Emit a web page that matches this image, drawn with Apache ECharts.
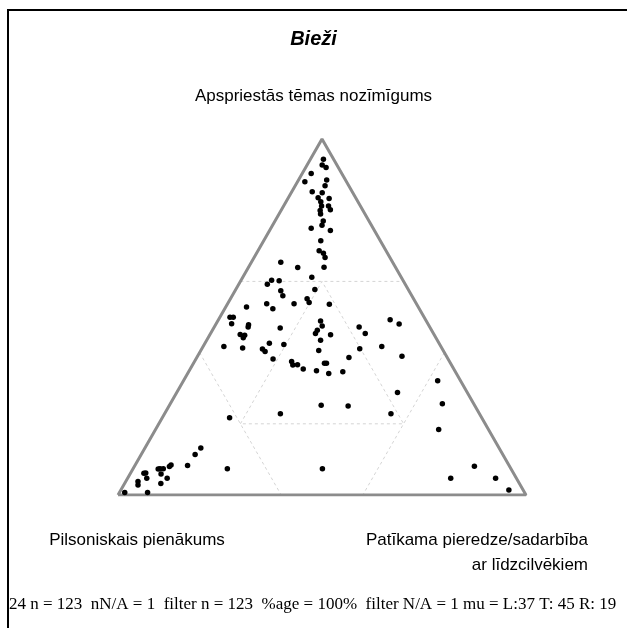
<!DOCTYPE html>
<html>
<head>
<meta charset="utf-8">
<script src="https://cdn.jsdelivr.net/npm/echarts@6/dist/echarts.min.js"></script>
<style>
  html, body { margin: 0; padding: 0; background: #fff; }
  #ternary { width: 627px; height: 628px; }
</style>
</head>
<body>
<div id="ternary"></div>
<script>
// shares in % : left = Pilsoniskais pienākums, top = Apspriestās tēmas nozīmīgums, right = Patīkama pieredze
const pctLeft = [
  2.5, 3.6, 3.0, 7.5, 10.2, 4.6, 5.8, 9.8, 7.5, 9.2,
  6.6, 9.1, 9.5, 7.8, 7.9, 10.5, 10.9, 11.2, 12.1, 15.2,
  10.8, 14.6, 16.4, 15.7, 15.9, 17.5, 27.4, 24.0, 21.9, 33.8,
  32.2, 30.4, 22.9, 31.4, 31.6, 36.7, 35.9, 30.0, 26.1, 26.1,
  21.4, 42.1, 47.6, 46.8, 48.1, 44.1, 44.5, 36.8, 47.5, 46.5,
  47.2, 53.2, 48.8, 25.9, 26.2, 28.0, 28.9, 25.4, 28.6, 30.5,
  41.6, 38.2, 44.1, 43.8, 42.9, 38.7, 38.9, 37.7, 36.9, 33.9,
  30.9, 30.4, 31.3, 27.6, 24.1, 17.3, 16.7, 20.2, 14.5, 8.7,
  7.1, 10.9, 17.1, 5.6, 7.7, 12.2, 37.6, 31.1, 48.8, 21.7,
  61.8, 73.1, 75.4, 78.8, 69.5, 46.2, 82.8, 83.4, 85.2, 86.0,
  86.5, 86.5, 90.1, 90.6, 90.6, 93.2, 93.7, 85.6, 87.9, 98.0,
  92.4, 8.6, 16.1, 5.1, 3.5
];
const pctTop = [
  94.3, 92.7, 92.0, 90.3, 88.0, 88.5, 86.9, 85.2, 84.9, 83.5,
  83.3, 82.4, 81.2, 81.2, 80.1, 79.9, 78.9, 77.0, 75.8, 74.9,
  74.3, 71.4, 68.6, 67.9, 66.7, 64.0, 65.4, 63.9, 61.2, 59.2,
  60.3, 60.2, 57.7, 57.4, 56.0, 53.7, 52.3, 53.7, 55.1, 54.1,
  53.6, 52.8, 49.9, 49.9, 48.1, 47.8, 47.2, 46.9, 45.1, 44.9,
  44.2, 41.7, 41.3, 48.9, 47.5, 46.3, 45.4, 45.0, 43.5, 40.6,
  42.6, 42.3, 41.0, 40.3, 38.2, 37.5, 36.5, 36.6, 35.4, 34.9,
  37.0, 37.0, 34.1, 34.6, 38.6, 47.2, 45.4, 41.1, 41.7, 49.2,
  48.0, 39.0, 28.8, 32.1, 25.6, 18.4, 25.2, 25.0, 22.8, 22.8,
  21.7, 13.2, 11.4, 8.3, 7.4, 7.4, 8.4, 8.0, 7.4, 7.4,
  7.3, 5.9, 6.2, 6.1, 4.7, 3.8, 2.8, 4.7, 3.2, 0.7,
  0.7, 8.1, 4.7, 4.7, 1.4
];
const pctRight = [
  3.2, 3.7, 5.0, 2.2, 1.8, 6.9, 7.3, 5.0, 7.6, 7.3,
  10.1, 8.5, 9.3, 11.0, 12.0, 9.6, 10.2, 11.8, 12.1, 9.9,
  14.9, 14.0, 15.0, 16.4, 17.4, 18.5, 7.2, 12.1, 16.9, 7.0,
  7.5, 9.4, 19.4, 11.2, 12.4, 9.6, 11.8, 16.3, 18.8, 19.8,
  25.0, 5.1, 2.5, 3.3, 3.8, 8.1, 8.3, 16.3, 7.4, 8.6,
  8.6, 5.1, 9.9, 25.2, 26.3, 25.7, 25.7, 29.6, 27.9, 28.9,
  15.8, 19.5, 14.9, 15.9, 18.9, 23.8, 24.6, 25.7, 27.7, 31.2,
  32.1, 32.6, 34.6, 37.8, 37.3, 35.5, 37.9, 38.7, 43.8, 42.1,
  44.9, 50.1, 54.1, 62.3, 66.7, 69.4, 37.2, 43.9, 28.4, 55.5,
  16.5, 13.7, 13.2, 12.9, 23.1, 46.4, 8.8, 8.6, 7.4, 6.6,
  6.2, 7.6, 3.7, 3.3, 4.7, 3.0, 3.5, 9.7, 8.9, 1.3,
  6.9, 83.3, 79.2, 90.2, 95.1
];

// reference lines, as [left, top, right] end points
const outline = [[100, 0, 0], [0, 0, 100], [0, 100, 0], [100, 0, 0]];
const guideLines = [
  [[40, 60, 0], [0, 60, 40]],
  [[60, 40, 0], [60, 0, 40]],
  [[0, 40, 60], [40, 0, 60]],
  [[60, 20, 20], [20, 60, 20], [20, 20, 60], [60, 20, 20]]
];

const titleText = 'Bieži';
const topLabel = 'Apspriestās tēmas nozīmīgums';
const leftLabel = 'Pilsoniskais pienākums';
const rightLabel = 'Patīkama pieredze/sadarbība\nar līdzcilvēkiem';
const footerText = '24 n = 123  nN/A = 1  filter n = 123  %age = 100%  filter N/A = 1 mu = L:37 T: 45 R: 19';

// ternary -> plane: x = right + top/2, y = top
function toXY(l, t, r) {
  const s = l + t + r;
  return [(r + t / 2) / s, t / s];
}

const myChart = echarts.init(document.getElementById('ternary'));
const sans = 'Liberation Sans, Arial, sans-serif';

const guideSeries = guideLines.map(seg => ({
  type: 'line',
  data: seg.map(p => toXY(p[0], p[1], p[2])),
  showSymbol: false,
  silent: true,
  lineStyle: { color: '#d4d4d4', width: 1, type: [3, 3] },
  z: 1
}));

const option = {
  animation: false,
  title: {
    text: titleText,
    left: 'center',
    top: 24,
    textStyle: { fontFamily: sans, fontSize: 20, fontWeight: 'bold', fontStyle: 'italic', color: '#000' }
  },
  grid: { left: 118, top: 139, width: 408, height: 356 },
  xAxis: { type: 'value', min: 0, max: 1, show: false },
  yAxis: { type: 'value', min: 0, max: 1, show: false },
  series: [
    ...guideSeries,
    {
      type: 'line',
      data: outline.map(p => toXY(p[0], p[1], p[2])),
      showSymbol: false,
      silent: true,
      lineStyle: { color: '#8c8c8c', width: 3 },
      z: 2
    },
    {
      type: 'scatter',
      data: pctLeft.map((l, i) => toXY(l, pctTop[i], pctRight[i])),
      symbolSize: 5.5,
      itemStyle: { color: '#000', opacity: 1 },
      z: 3
    }
  ],
  graphic: [
    {
      type: 'rect',
      shape: { x: 8, y: 10, width: 700, height: 700 },
      style: { fill: null, stroke: '#000', lineWidth: 2 }
    },
    {
      type: 'text', left: 'center', top: 88,
      style: { text: topLabel, font: '17px ' + sans, fill: '#000' }
    },
    {
      type: 'text', x: 137, y: 540,
      style: { text: leftLabel, font: '17px ' + sans, fill: '#000', align: 'center', verticalAlign: 'middle' }
    },
    {
      type: 'text', x: 588, y: 528,
      style: { text: rightLabel, font: '17px ' + sans, fill: '#000', align: 'right', lineHeight: 25 }
    },
    {
      type: 'text', x: 9, y: 605,
      style: { text: footerText, font: '17px Liberation Serif, Times New Roman, serif', fill: '#000', verticalAlign: 'middle' }
    }
  ]
};

myChart.setOption(option);
</script>
</body>
</html>
